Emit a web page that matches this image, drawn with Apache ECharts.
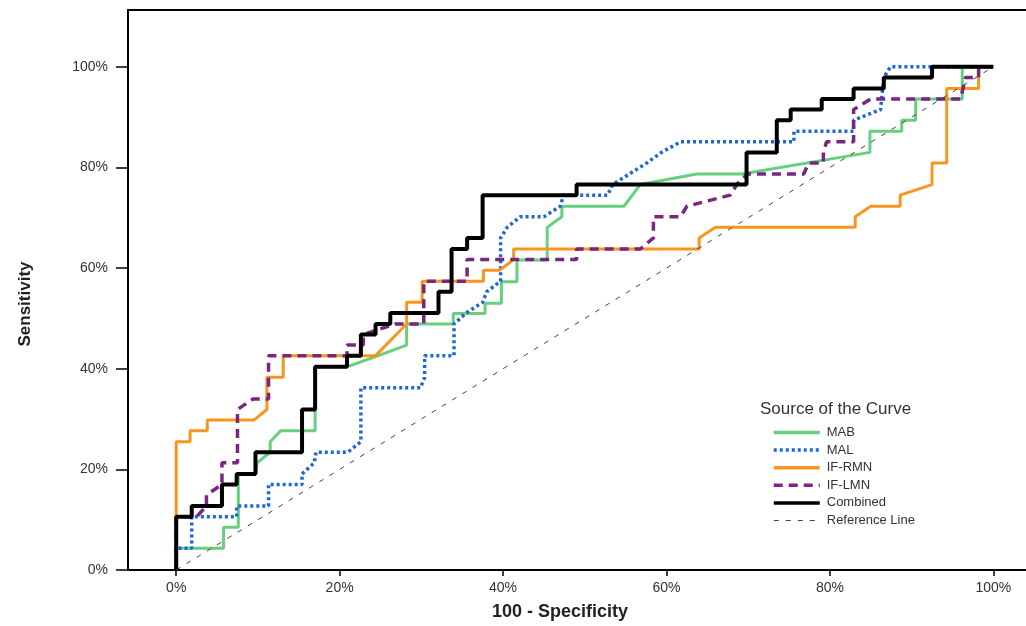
<!DOCTYPE html>
<html lang="en">
<head>
    <meta charset="UTF-8">
    <title>ROC curves</title>
    <style>
        html, body { margin: 0; padding: 0; background: #fff; }
        #chart { width: 1026px; height: 626px; }
    </style>
</head>
<body>
    <div id="chart"></div>
    <script src="https://cdn.jsdelivr.net/npm/echarts@6/dist/echarts.min.js"></script>
    <script>
        // tick positions on both axes (percent)
        var ticks = [0, 20, 40, 60, 80, 100];

        // [100 - specificity, sensitivity] points
        var mab = [[0,0],[0,4.3],[5.8,4.3],[5.8,8.5],[7.6,8.5],[7.6,19.1],[9.7,19.1],[9.9,21.3],[11.5,23.4],[11.5,25.5],[12.8,27.7],[17.0,27.7],[17.0,40.4],[20.9,40.4],[24.4,42.4],[28.2,44.7],[28.2,48.9],[33.9,48.9],[33.9,51.0],[37.8,51.0],[37.8,53.0],[39.8,53.0],[39.8,57.3],[41.7,57.3],[41.7,61.6],[45.4,61.6],[45.4,68.1],[47.2,70.2],[47.2,72.3],[54.8,72.3],[56.8,76.6],[63.7,78.7],[69.2,78.7],[84.9,83.0],[84.9,87.2],[88.8,87.2],[88.8,89.4],[90.5,89.4],[90.5,93.6],[96.2,93.6],[96.2,100],[100,100]];
        var mal = [[0,0],[0,4.3],[1.9,4.3],[1.9,10.6],[7.4,10.6],[7.4,12.7],[11.3,12.7],[11.3,17.0],[15.4,17.0],[15.4,19.1],[16.9,21.3],[17.1,23.4],[21.0,23.4],[22.6,25.5],[22.6,36.2],[29.9,36.2],[30.4,38.3],[30.4,42.6],[34.0,42.6],[34.0,48.9],[35.5,51.1],[37.5,53.2],[38.0,55.3],[39.7,57.4],[39.7,66.0],[40.5,68.1],[42.1,70.2],[45.0,70.2],[47.0,72.3],[47.4,74.5],[52.8,74.5],[53.4,76.6],[57.6,80.9],[59.4,83.0],[61.7,85.1],[75.6,85.1],[75.6,87.2],[82.9,87.2],[82.9,89.4],[86.2,91.5],[86.6,97.9],[87.4,100],[100,100]];
        var ifRmn = [[0,0],[0,25.5],[1.7,25.5],[1.7,27.7],[3.8,27.7],[3.8,29.8],[9.5,29.8],[11.1,31.9],[11.1,38.3],[13.1,38.3],[13.1,42.6],[24.4,42.6],[28.2,48.9],[28.2,53.2],[30.1,53.2],[30.1,57.4],[37.6,57.4],[37.6,59.6],[39.6,59.6],[41.3,61.7],[41.3,63.8],[64.0,63.8],[64.0,66.0],[66.0,68.1],[83.1,68.1],[83.1,70.2],[85.0,72.3],[88.6,72.3],[88.6,74.5],[92.5,76.6],[92.5,80.9],[94.3,80.9],[94.3,95.7],[98.2,95.7],[98.2,100],[100,100]];
        var ifLmn = [[0,0],[0,10.6],[2.5,10.6],[3.7,12.7],[3.7,14.9],[5.6,17.0],[5.6,21.3],[7.5,21.3],[7.5,31.9],[9.4,34.0],[11.3,34.0],[11.3,42.6],[20.9,42.6],[20.9,44.7],[22.9,44.7],[22.9,46.8],[26.8,48.9],[30.3,48.9],[30.3,57.4],[35.6,57.4],[35.6,61.7],[49.0,61.7],[49.0,63.8],[56.8,63.8],[58.4,66.0],[58.4,70.2],[61.7,70.2],[62.5,72.3],[67.8,74.5],[68.6,76.6],[69.9,78.7],[76.8,78.7],[77.4,80.9],[79.2,80.9],[79.2,83.0],[79.6,85.1],[82.9,85.1],[82.9,91.5],[85.0,93.6],[96.0,93.6],[96.6,97.9],[98.2,97.9],[98.2,100],[100,100]];
        var combined = [[0,0],[0,10.6],[1.9,10.6],[1.9,12.7],[5.6,12.7],[5.6,17.0],[7.4,17.0],[7.4,19.1],[9.7,19.1],[9.7,23.4],[15.4,23.4],[15.4,31.9],[17.0,31.9],[17.0,40.4],[20.9,40.4],[20.9,42.6],[22.6,42.6],[22.6,46.8],[24.4,46.8],[24.4,48.9],[26.2,48.9],[26.2,51.1],[32.1,51.1],[32.1,55.3],[33.7,55.3],[33.7,63.8],[35.6,63.8],[35.6,66.0],[37.5,66.0],[37.5,74.5],[49.0,74.5],[49.0,76.6],[69.8,76.6],[69.8,83.0],[73.5,83.0],[73.5,89.4],[75.2,89.4],[75.2,91.5],[79.0,91.5],[79.0,93.6],[82.9,93.6],[82.9,95.7],[86.6,95.7],[86.6,97.9],[92.5,97.9],[92.5,100],[100,100]];
        var reference = [[0,0],[100,100]];

        var font = 'Liberation Sans, Arial, sans-serif';
        var myChart = echarts.init(document.getElementById('chart'));

        function curve(name, data, color, width, dash) {
            return {
                name: name,
                type: 'line',
                data: data,
                symbol: 'none',
                silent: true,
                lineStyle: { color: color, width: width, type: dash },
                itemStyle: { color: color }
            };
        }

        var option = {
            backgroundColor: '#fff',
            animation: false,
            title: {
                text: 'Source of the Curve',
                left: 760,
                top: 401,
                padding: 0,
                textStyle: { fontFamily: font, fontSize: 17, fontWeight: 'normal', color: '#333' }
            },
            legend: {
                orient: 'vertical',
                left: 772,
                top: 426,
                padding: 0,
                itemWidth: 46,
                itemHeight: 14,
                itemGap: 4.6,
                itemStyle: { opacity: 0 },  // hide the dot, keep the line sample
                textStyle: { fontFamily: font, fontSize: 13, color: '#333', padding: [0, 0, 0, 2] },
                data: [
                    { name: 'MAB', lineStyle: { width: 3.5 } },
                    { name: 'MAL', lineStyle: { width: 3.5, type: [3, 3] } },
                    { name: 'IF-RMN', lineStyle: { width: 3.5 } },
                    { name: 'IF-LMN', lineStyle: { width: 3.5, type: [9, 6] } },
                    { name: 'Combined', lineStyle: { width: 3.5 } },
                    { name: 'Reference Line', lineStyle: { width: 1.2, type: [5, 7] } }
                ]
            },
            grid: {
                left: 128,
                right: 0,
                top: 10,
                bottom: 56
            },
            xAxis: [
                {
                    type: 'value',
                    min: -5.9,
                    max: 104.0,
                    name: '100 - Specificity',
                    nameLocation: 'middle',
                    nameGap: 33,
                    nameTextStyle: { fontFamily: font, fontSize: 18, fontWeight: 'bold', color: '#222', padding: [0, 34, 0, 0] },
                    axisLine: { show: true, onZero: false, lineStyle: { color: '#000', width: 2 } },
                    axisTick: { show: true, length: 6, customValues: ticks, lineStyle: { color: '#000', width: 1.5 } },
                    axisLabel: {
                        customValues: ticks,
                        formatter: '{value}%',
                        margin: 11,
                        fontFamily: font,
                        fontSize: 14,
                        color: '#333'
                    },
                    splitLine: { show: false }
                },
                {
                    // top edge of the frame only
                    type: 'value',
                    position: 'top',
                    min: -5.9,
                    max: 104.0,
                    axisLine: { show: true, onZero: false, lineStyle: { color: '#000', width: 2 } },
                    axisTick: { show: false },
                    axisLabel: { show: false },
                    splitLine: { show: false }
                }
            ],
            yAxis: {
                type: 'value',
                min: 0,
                max: 111.3,
                name: 'Sensitivity',
                nameLocation: 'middle',
                nameGap: 94,
                nameTextStyle: { fontFamily: font, fontSize: 17, fontWeight: 'bold', color: '#222', padding: [0, 28, 0, 0] },
                axisLine: { show: true, onZero: false, lineStyle: { color: '#000', width: 2 } },
                axisTick: { show: true, length: 12, customValues: ticks, lineStyle: { color: '#000', width: 1.5 } },
                axisLabel: {
                    customValues: ticks,
                    formatter: '{value}%',
                    margin: 20,
                    fontFamily: font,
                    fontSize: 14,
                    color: '#333'
                },
                splitLine: { show: false }
            },
            series: [
                curve('MAB', mab, '#66d07e', 3, 'solid'),
                curve('MAL', mal, '#1c66d8', 3.5, [3, 3]),
                curve('IF-RMN', ifRmn, '#f7961e', 3, 'solid'),
                curve('IF-LMN', ifLmn, '#7a2680', 3.5, [9, 6]),
                curve('Combined', combined, '#000', 4, 'solid'),
                curve('Reference Line', reference, '#444', 1, [5, 7])
            ]
        };

        myChart.setOption(option);
    </script>
</body>
</html>
